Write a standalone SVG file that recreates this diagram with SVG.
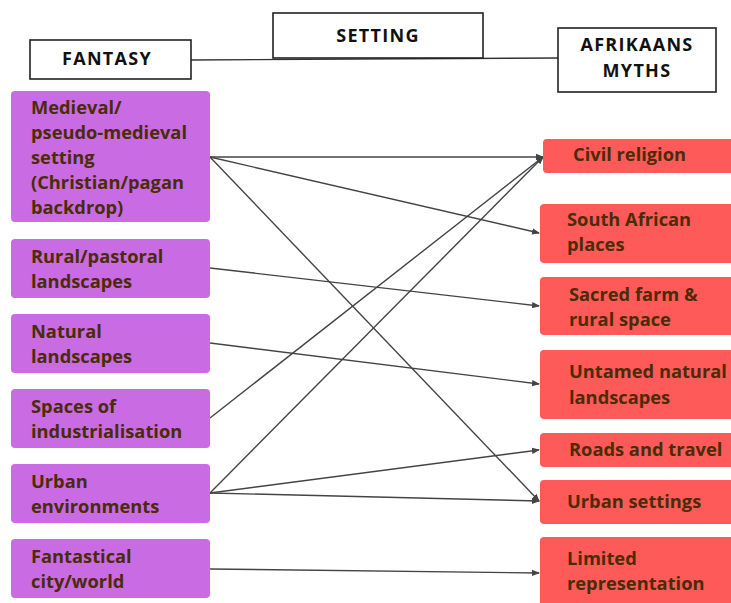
<svg xmlns="http://www.w3.org/2000/svg" width="731" height="603" viewBox="0 0 731 603">
  <defs>
    <style>
      .hdr { fill: #ffffff; stroke: #222222; stroke-width: 1.6; }
      .hdr-t { font-family: "Open Sans", "Liberation Sans", sans-serif; font-weight: 700; font-size: 18px; letter-spacing: 1.3px; fill: #111111; text-anchor: middle; }
      .fan { fill: #C96BE3; }
      .myth { fill: #FF5A5A; }
      .lbl { font-family: "Open Sans", "Liberation Sans", sans-serif; font-weight: 700; font-size: 18.3px; fill: #4A2C06; }
      .link { fill: none; stroke: #333333; stroke-width: 1.4; }
      .arr { fill: none; stroke: #444444; stroke-width: 1.4; marker-end: url(#ah); }
    </style>
    <marker id="ah" markerWidth="8" markerHeight="8" refX="7" refY="4" orient="auto" markerUnits="userSpaceOnUse">
      <path d="M0,0.8 L8,4 L0,7.2 Z" fill="#444444"/>
    </marker>
  </defs>

  <rect width="731" height="603" fill="#ffffff"/>

  <!-- connectors -->
  <g id="connectors">
    <line class="link" x1="191" y1="60" x2="558" y2="58"/>
    <line class="arr" x1="210" y1="157" x2="543" y2="157"/>
    <line class="arr" x1="210" y1="157" x2="539" y2="233"/>
    <line class="arr" x1="210" y1="157" x2="539" y2="501"/>
    <line class="arr" x1="210" y1="268" x2="539" y2="306"/>
    <line class="arr" x1="210" y1="343" x2="539" y2="384"/>
    <line class="arr" x1="210" y1="418" x2="543" y2="157"/>
    <line class="arr" x1="210" y1="493" x2="543" y2="157"/>
    <line class="arr" x1="210" y1="493" x2="539" y2="450"/>
    <line class="arr" x1="210" y1="493" x2="539" y2="501"/>
    <line class="arr" x1="210" y1="569" x2="539" y2="573"/>
  </g>

  <!-- header boxes -->
  <g id="fantasy">
    <rect class="hdr" x="30" y="40" width="161" height="39"/>
    <text class="hdr-t" x="107" y="65">FANTASY</text>
  </g>
  <g id="setting">
    <rect class="hdr" x="273" y="13" width="210" height="45"/>
    <text class="hdr-t" x="378" y="42">SETTING</text>
  </g>
  <g id="afrikaans-myths">
    <rect class="hdr" x="558" y="28" width="158" height="64"/>
    <text class="hdr-t" x="637" y="51">AFRIKAANS</text>
    <text class="hdr-t" x="637" y="77">MYTHS</text>
  </g>

  <!-- fantasy settings -->
  <g id="medieval">
    <rect class="fan" x="11" y="91" width="199" height="131" rx="4"/>
    <text class="lbl" x="31" y="114">Medieval/</text>
    <text class="lbl" x="31" y="139">pseudo-medieval</text>
    <text class="lbl" x="31" y="164">setting</text>
    <text class="lbl" x="31" y="189">(Christian/pagan</text>
    <text class="lbl" x="31" y="214">backdrop)</text>
  </g>
  <g id="rural">
    <rect class="fan" x="11" y="239" width="199" height="59" rx="4"/>
    <text class="lbl" x="31" y="263">Rural/pastoral</text>
    <text class="lbl" x="31" y="288">landscapes</text>
  </g>
  <g id="natural">
    <rect class="fan" x="11" y="314" width="199" height="59" rx="4"/>
    <text class="lbl" x="31" y="338">Natural</text>
    <text class="lbl" x="31" y="363">landscapes</text>
  </g>
  <g id="industrial">
    <rect class="fan" x="11" y="389" width="199" height="59" rx="4"/>
    <text class="lbl" x="31" y="413">Spaces of</text>
    <text class="lbl" x="31" y="438">industrialisation</text>
  </g>
  <g id="urban">
    <rect class="fan" x="11" y="464" width="199" height="59" rx="4"/>
    <text class="lbl" x="31" y="488">Urban</text>
    <text class="lbl" x="31" y="513">environments</text>
  </g>
  <g id="fantastical">
    <rect class="fan" x="11" y="539" width="199" height="59" rx="4"/>
    <text class="lbl" x="31" y="563">Fantastical</text>
    <text class="lbl" x="31" y="588">city/world</text>
  </g>

  <!-- Afrikaans myth settings -->
  <g id="civil-religion">
    <rect class="myth" x="543" y="139" width="200" height="34" rx="4"/>
    <text class="lbl" x="573" y="161">Civil religion</text>
  </g>
  <g id="sa-places">
    <rect class="myth" x="540" y="204" width="203" height="59" rx="4"/>
    <text class="lbl" x="567" y="226">South African</text>
    <text class="lbl" x="567" y="251">places</text>
  </g>
  <g id="sacred-farm">
    <rect class="myth" x="540" y="277" width="203" height="58" rx="4"/>
    <text class="lbl" x="569" y="301">Sacred farm &amp;</text>
    <text class="lbl" x="569" y="326">rural space</text>
  </g>
  <g id="untamed">
    <rect class="myth" x="540" y="350" width="203" height="69" rx="4"/>
    <text class="lbl" x="569" y="378">Untamed natural</text>
    <text class="lbl" x="569" y="404">landscapes</text>
  </g>
  <g id="roads">
    <rect class="myth" x="540" y="433" width="203" height="34" rx="4"/>
    <text class="lbl" x="569" y="456">Roads and travel</text>
  </g>
  <g id="urban-settings">
    <rect class="myth" x="540" y="480" width="203" height="44" rx="4"/>
    <text class="lbl" x="567" y="508">Urban settings</text>
  </g>
  <g id="limited">
    <rect class="myth" x="540" y="537" width="203" height="80" rx="4"/>
    <text class="lbl" x="567" y="565">Limited</text>
    <text class="lbl" x="567" y="590">representation</text>
  </g>
</svg>
